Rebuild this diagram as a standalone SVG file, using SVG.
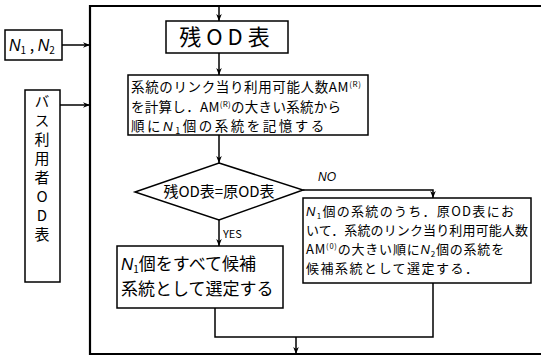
<svg xmlns="http://www.w3.org/2000/svg" width="541" height="361" viewBox="0 0 541 361">
<defs>
<marker id="ah" viewBox="0 0 10 10" refX="10" refY="5" markerWidth="7" markerHeight="7" orient="auto" markerUnits="userSpaceOnUse">
<path d="M0,1 L10,5 L0,9 L3,5 Z" fill="#000"/>
</marker>
<style>
.box{fill:#fff;stroke:#000;stroke-width:1.5}
.ln{fill:none;stroke:#000;stroke-width:1.5}
.frame{fill:none;stroke:#000;stroke-width:2.2}
text{font-family:"Noto Sans CJK JP","Noto Sans",sans-serif;fill:#000}
.it{font-style:italic;font-family:"Liberation Sans",sans-serif}
.vt{writing-mode:vertical-rl;text-orientation:upright}
</style>
</defs>
<rect width="541" height="361" fill="#fff"/>

<g id="frame">
<polyline class="frame" points="541,6 90,6 90,354 541,354"/>
</g>

<g id="n1n2">
<rect class="box" x="5" y="30" width="57" height="30"/>
<text x="9" y="51" font-size="16"><tspan class="it">N</tspan><tspan font-size="10" dy="3">1</tspan><tspan dy="-3"> , </tspan><tspan class="it">N</tspan><tspan font-size="10" dy="3">2</tspan></text>
</g>

<g id="bus-od">
<rect class="box" x="25" y="90" width="35" height="192"/>
<text class="vt" x="42" y="94" font-size="15" letter-spacing="4">バス利用者OD表</text>
</g>

<g id="zan-od">
<rect class="box" x="166" y="21" width="122" height="32"/>
<text x="227" y="45" font-size="22" text-anchor="middle" letter-spacing="5">残OD表</text>
</g>

<g id="calc">
<rect class="box" x="128" y="75" width="240" height="60"/>
<text x="131" y="92" font-size="13.5" textLength="230" lengthAdjust="spacing">系統のリンク当り利用可能人数AM<tspan font-size="8" dy="-5">(R)</tspan></text>
<text x="131" y="112" font-size="13.5" textLength="210" lengthAdjust="spacing">を計算し．AM<tspan font-size="8" dy="-5">(R)</tspan><tspan dy="5">の大きい系統から</tspan></text>
<text x="131" y="131" font-size="13.5" letter-spacing="2.5">順に<tspan class="it">N</tspan><tspan font-size="9" dy="3">1</tspan><tspan dy="-3">個の系統を記憶する</tspan></text>
</g>

<g id="decision">
<polygon class="box" points="219,163 303,190 219,220 135,192"/>
<text x="219" y="197" font-size="15" text-anchor="middle">残OD表=原OD表</text>
</g>

<g id="select-all">
<rect class="box" x="117" y="246" width="166" height="62"/>
<text x="121" y="270" font-size="17"><tspan class="it">N</tspan><tspan font-size="10" dy="3">1</tspan><tspan dy="-3">個をすべて候補</tspan></text>
<text x="121" y="295" font-size="17">系統として選定する</text>
</g>

<g id="select-n2">
<rect class="box" x="303" y="198" width="228" height="85"/>
<text x="306" y="216" font-size="13" letter-spacing="1.3"><tspan class="it">N</tspan><tspan font-size="8" dy="3">1</tspan><tspan dy="-3">個の系統のうち．原OD表にお</tspan></text>
<text x="306" y="235" font-size="13" textLength="222" lengthAdjust="spacing">いて．系統のリンク当り利用可能人数</text>
<text x="306" y="254" font-size="13" letter-spacing="0.8">AM<tspan font-size="7.5" dy="-5">(0)</tspan><tspan dy="5">の大きい順に</tspan><tspan class="it">N</tspan><tspan font-size="8" dy="3">2</tspan><tspan dy="-3">個の系統を</tspan></text>
<text x="306" y="273" font-size="13" letter-spacing="1.5">候補系統として選定する．</text>
</g>

<g id="connectors">
<line class="ln" x1="219" y1="6" x2="219" y2="21" marker-end="url(#ah)"/>
<line class="ln" x1="219" y1="53" x2="219" y2="75" marker-end="url(#ah)"/>
<line class="ln" x1="219" y1="135" x2="219" y2="163" marker-end="url(#ah)"/>
<polyline class="ln" points="303,190 433,190 433,198" marker-end="url(#ah)"/>
<line class="ln" x1="219" y1="220" x2="219" y2="246" marker-end="url(#ah)"/>
<polyline class="ln" points="215,308 215,337 433,337 433,283"/>
<line class="ln" x1="296" y1="337" x2="296" y2="354" marker-end="url(#ah)"/>
<line class="ln" x1="62" y1="45" x2="90" y2="45" marker-end="url(#ah)"/>
<line class="ln" x1="60" y1="105" x2="90" y2="105" marker-end="url(#ah)"/>
<text x="318" y="181" font-size="12" class="it">NO</text>
<text x="223" y="238" font-size="11" font-family="Liberation Sans,sans-serif">YES</text>
</g>
</svg>
